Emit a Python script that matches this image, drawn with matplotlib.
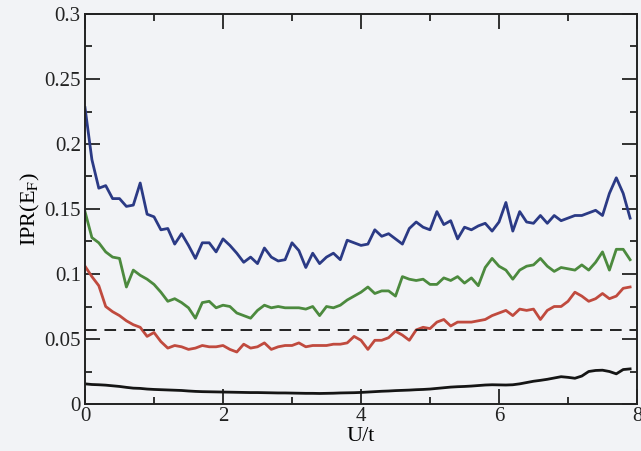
import matplotlib
matplotlib.use("Agg")
import matplotlib.pyplot as plt
from matplotlib.ticker import MultipleLocator
import numpy as np

U = [round(0.1 * i, 1) for i in range(80)]

blue = [0.228, 0.188, 0.166, 0.168, 0.158, 0.158, 0.152, 0.153, 0.170, 0.146,
        0.144, 0.134, 0.135, 0.123, 0.131, 0.122, 0.112, 0.124, 0.124, 0.117,
        0.127, 0.122, 0.116, 0.109, 0.113, 0.108, 0.120, 0.113, 0.110, 0.111,
        0.124, 0.118, 0.105, 0.116, 0.108, 0.113, 0.116, 0.111, 0.126, 0.124,
        0.122, 0.123, 0.134, 0.129, 0.131, 0.127, 0.123, 0.135, 0.140, 0.136,
        0.134, 0.148, 0.138, 0.141, 0.127, 0.136, 0.134, 0.137, 0.139, 0.133,
        0.140, 0.155, 0.133, 0.148, 0.140, 0.139, 0.145, 0.139, 0.145, 0.141,
        0.143, 0.145, 0.145, 0.147, 0.149, 0.145, 0.162, 0.174, 0.162, 0.143]

green = [0.148, 0.128, 0.124, 0.117, 0.113, 0.112, 0.090, 0.103, 0.099, 0.096,
         0.092, 0.086, 0.079, 0.081, 0.078, 0.074, 0.066, 0.078, 0.079, 0.074,
         0.076, 0.075, 0.070, 0.068, 0.066, 0.072, 0.076, 0.074, 0.075, 0.074,
         0.074, 0.074, 0.073, 0.075, 0.068, 0.075, 0.074, 0.076, 0.080, 0.083,
         0.086, 0.090, 0.085, 0.087, 0.087, 0.083, 0.098, 0.096, 0.095, 0.096,
         0.092, 0.092, 0.097, 0.095, 0.098, 0.093, 0.097, 0.091, 0.105, 0.112,
         0.106, 0.103, 0.096, 0.103, 0.106, 0.107, 0.112, 0.106, 0.102, 0.105,
         0.104, 0.103, 0.107, 0.103, 0.109, 0.117, 0.103, 0.119, 0.119, 0.111]

red = [0.106, 0.098, 0.091, 0.075, 0.071, 0.068, 0.064, 0.061, 0.059, 0.052,
       0.055, 0.048, 0.043, 0.045, 0.044, 0.042, 0.043, 0.045, 0.044, 0.044,
       0.045, 0.042, 0.040, 0.046, 0.043, 0.044, 0.047, 0.042, 0.044, 0.045,
       0.045, 0.047, 0.044, 0.045, 0.045, 0.045, 0.046, 0.046, 0.047, 0.052,
       0.049, 0.042, 0.049, 0.049, 0.051, 0.056, 0.053, 0.049, 0.057, 0.059,
       0.058, 0.063, 0.065, 0.060, 0.063, 0.063, 0.063, 0.064, 0.065, 0.068,
       0.070, 0.072, 0.068, 0.073, 0.072, 0.073, 0.065, 0.072, 0.075, 0.075,
       0.079, 0.086, 0.083, 0.079, 0.081, 0.085, 0.081, 0.083, 0.089, 0.090]

black = [0.0155, 0.0150, 0.0148, 0.0145, 0.0140, 0.0135, 0.0128, 0.0122, 0.0120, 0.0115,
         0.0112, 0.0110, 0.0108, 0.0106, 0.0104, 0.0100, 0.0097, 0.0095, 0.0094, 0.0093,
         0.0092, 0.0091, 0.0090, 0.0089, 0.0088, 0.0088, 0.0087, 0.0086, 0.0085, 0.0085,
         0.0084, 0.0083, 0.0082, 0.0082, 0.0081, 0.0082, 0.0083, 0.0085, 0.0086, 0.0087,
         0.0089, 0.0092, 0.0095, 0.0098, 0.0100, 0.0103, 0.0105, 0.0107, 0.0110, 0.0112,
         0.0115, 0.0120, 0.0125, 0.0130, 0.0133, 0.0135, 0.0138, 0.0142, 0.0146, 0.0148,
         0.0147, 0.0146, 0.0148, 0.0155, 0.0165, 0.0175, 0.0182, 0.0190, 0.0200, 0.0210,
         0.0205, 0.0198, 0.0215, 0.0250, 0.0258, 0.0260, 0.0250, 0.0232, 0.0265, 0.0270]

dashed_level = 0.057

plt.rcParams['font.family'] = ['Liberation Serif', 'DejaVu Serif']
plt.rcParams['mathtext.fontset'] = 'stix'

bg = '#f2f3f6'
fig = plt.figure(figsize=(6.41, 4.51), dpi=100, facecolor=bg)
ax = fig.add_axes([85/641, 1 - 404/451, 552/641, 390/451])
ax.set_facecolor(bg)

lw = 2.0
ax.plot(U, blue, color='#2b3a85', lw=lw)
ax.plot(U, green, color='#4c8a3e', lw=lw)
ax.plot(U, red, color='#c04a3e', lw=lw)
ax.plot(U, black, color='#151515', lw=lw)
ax.axhline(dashed_level, color='#222222', lw=1.4, dashes=(6, 4))

ax.set_xlim(0, 8)
ax.set_ylim(0, 0.3)
ax.xaxis.set_minor_locator(MultipleLocator(1))
ax.yaxis.set_minor_locator(MultipleLocator(0.025))
ax.set_yticks([0, 0.05, 0.1, 0.15, 0.2, 0.25, 0.3])
ax.set_yticklabels(['0', '0.05', '0.1', '0.15', '0.2', '0.25', '0.3'])
ax.set_xticks([0, 2, 4, 6, 8])
ax.set_xticklabels(['0', '2', '4', '6', '8'])

ax.tick_params(which='both', direction='in', top=True, right=True, colors='#222222',
               labelsize=15, width=1.3)
ax.tick_params(which='major', length=11, pad=3)
ax.tick_params(axis='x', which='major', pad=2)
ax.tick_params(which='minor', length=5)
for s in ax.spines.values():
    s.set_linewidth(1.4)
    s.set_color('#222222')

ax.set_xlabel('U/t', fontsize=16, labelpad=1)
ax.set_ylabel(r'IPR(E$_\mathrm{F}$)', fontsize=16, labelpad=2)

fig.savefig('out.png', dpi=100, facecolor=bg)
